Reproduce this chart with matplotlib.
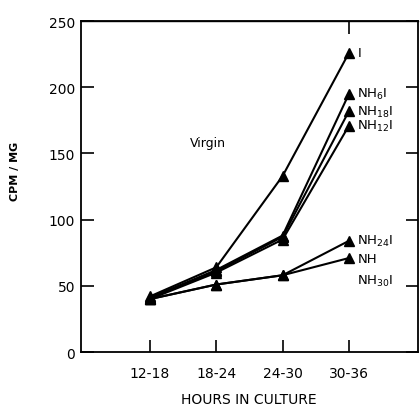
import matplotlib
matplotlib.use('Agg')
import matplotlib.pyplot as plt

# hours in culture (x categories)
periods = ['12-18', '18-24', '24-30', '30-36']

# CPM/MG for each treatment
cpm_I = [42, 64, 133, 226]
cpm_NH6I = [41, 62, 88, 195]
cpm_NH18I = [41, 61, 87, 182]
cpm_NH12I = [40, 60, 85, 171]
cpm_NH24I = [40, 51, 58, 84]
cpm_NH = [40, 51, 58, 71]

series = [
    (cpm_I, 'I'),
    (cpm_NH6I, r'NH$_{6}$I'),
    (cpm_NH18I, r'NH$_{18}$I'),
    (cpm_NH12I, r'NH$_{12}$I'),
    (cpm_NH24I, r'NH$_{24}$I'),
    (cpm_NH, 'NH'),
]

plt.rcParams['font.family'] = 'DejaVu Sans'
plt.rcParams['mathtext.fontset'] = 'dejavusans'

fig = plt.figure(figsize=(4.2, 4.1), dpi=100)
ax = fig.add_axes([0.192, 0.139, 0.803, 0.807])

x = list(range(len(periods)))
for vals, name in series:
    ax.plot(x, vals, color='black', lw=1.5, marker='^', ms=6.5, clip_on=False)
    ax.annotate(name, (x[-1], vals[-1]), xytext=(6, 0), textcoords='offset points',
                ha='left', va='center', fontsize=9.5)

# NH30I overlaps NH, only its label is shown
ax.annotate(r'NH$_{30}$I', (x[-1], cpm_NH[-1]), xytext=(6, -16), textcoords='offset points',
            ha='left', va='center', fontsize=9.5)

ax.text(0.88, 158, 'Virgin', ha='center', va='center', fontsize=9)

ax.set_xlim(-1.045, 4.04)
ax.set_ylim(0, 250)
ax.set_xticks(x)
ax.set_xticklabels(periods)
ax.set_yticks([0, 50, 100, 150, 200, 250])

for s in ax.spines.values():
    s.set_linewidth(1.3)

ax.tick_params(axis='both', direction='in', length=9, width=1.2, labelsize=10)
ax.tick_params(axis='y', right=True, pad=4)
ax.tick_params(axis='x', pad=10)

top = ax.secondary_xaxis('top')
top.set_xticks([3])
top.set_xticklabels([])
top.tick_params(direction='in', length=9, width=1.2)
top.spines['top'].set_linewidth(1.0)

ax.set_xlabel('HOURS IN CULTURE', fontsize=10, labelpad=9)
ax.set_ylabel('CPM / MG', fontsize=8, fontweight='bold')
ax.yaxis.set_label_coords(-0.18, 0.55)

fig.savefig('out.png', dpi=100)
